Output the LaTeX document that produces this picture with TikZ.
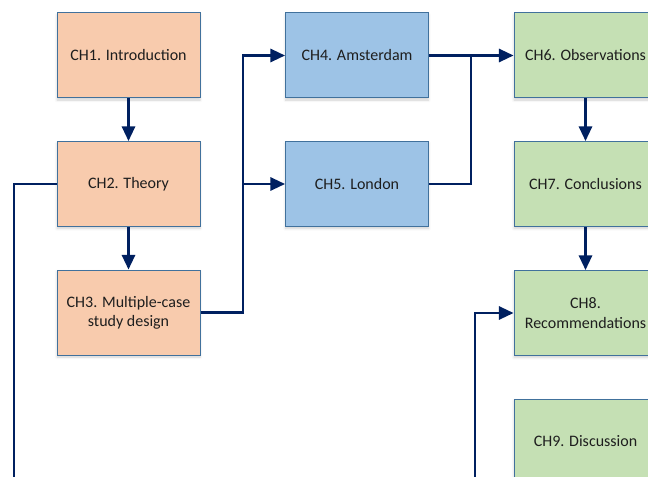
\documentclass[tikz,border=0pt]{standalone}
\usepackage{fontspec}
\setmainfont{Carlito}
\usetikzlibrary{arrows.meta,shadows.blur}

\definecolor{boxline}{HTML}{41719C}
\definecolor{fillorange}{HTML}{F8CBAD}
\definecolor{fillblue}{HTML}{9DC3E6}
\definecolor{fillgreen}{HTML}{C5E0B4}
\definecolor{linknavy}{HTML}{002060}
\definecolor{labeltext}{HTML}{1E1E1E}

\tikzset{
  chapter/.style={draw=boxline, line width=0.75pt, minimum width=107.25pt,
    minimum height=63.75pt, align=center, text=labeltext,
    font=\fontsize{12pt}{14.5pt}\selectfont,
    blur shadow={shadow xshift=0pt, shadow yshift=-1.5pt, shadow blur steps=6,
      shadow blur radius=2pt, shadow opacity=18}},
  introbox/.style={chapter, fill=fillorange},
  casebox/.style={chapter, fill=fillblue},
  resultbox/.style={chapter, fill=fillgreen},
  link/.style={draw=linknavy, line width=1.6pt},
  conn/.style={link, -{Triangle[length=11pt,width=10pt]}},
}

\begin{document}
\begin{tikzpicture}[x=0.75pt, y=-0.75pt]
  \useasboundingbox (0,0) rectangle (648,477);
  \clip (0,0) rectangle (648,477);

  % chapter boxes
  \node[introbox]  (ch1) at (128.5, 55.5) {CH1. Introduction};
  \node[introbox]  (ch2) at (128.5, 184)  {CH2. Theory};
  \node[introbox]  (ch3) at (128.5, 312.5) {CH3. Multiple-case\\study design};
  \node[casebox]   (ch4) at (357, 55.5)   {CH4. Amsterdam};
  \node[casebox]   (ch5) at (357, 184)    {CH5. London};
  \node[resultbox] (ch6) at (585.5, 55.5) {CH6. Observations};
  \node[resultbox] (ch7) at (585.5, 184)  {CH7. Conclusions};
  \node[resultbox] (ch8) at (585.5, 313)  {CH8.\\Recommendations};
  \node[resultbox] (ch9) at (585.5, 441.5) {CH9. Discussion};

  % routing columns
  \coordinate (splitx) at (243, 0);
  \coordinate (mergex) at (471, 0);
  \coordinate (leftx)  at (14, 0);
  \coordinate (rightx) at (475, 0);
  \coordinate (below)  at (0, 520);

  % connectors
  \draw[conn] (ch1) -- (ch2);
  \draw[conn] (ch2) -- (ch3);
  \draw[conn] (ch6) -- (ch7);
  \draw[conn] (ch7) -- (ch8);

  \draw[conn] (ch3.east) -- (ch3.east -| splitx) |- (ch4.west);
  \draw[conn] (ch5.west -| splitx) -- (ch5.west);

  \draw[conn] (ch4.east) -- (ch6.west);
  \draw[link] (ch5.east) -| (mergex |- ch4.east);

  \draw[conn] (ch2.west) -| (leftx |- below) -- (rightx |- below) |- (ch8.west);
\end{tikzpicture}
\end{document}
